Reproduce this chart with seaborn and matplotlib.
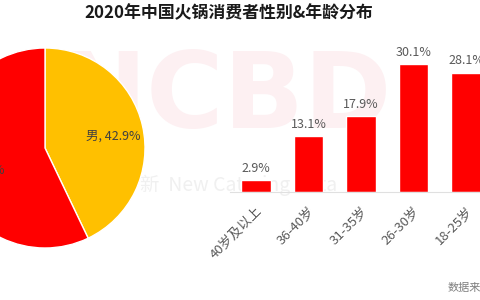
import matplotlib
matplotlib.use("Agg")
import matplotlib.pyplot as plt
import seaborn as sns
import pandas as pd

# ---- data ----
title = "2020年中国火锅消费者性别&年龄分布"
gender_labels = ["男", "女"]
gender_values = [42.9, 57.1]
age_labels = ["40岁及以上", "36-40岁", "31-35岁", "26-30岁", "18-25岁", "18岁以下"]
age_values = [2.9, 13.1, 17.9, 30.1, 28.1, 7.9]
source_text = "数据来源：NCBD（餐宝典）"

sns.set_theme(style="white")
plt.rcParams['font.family'] = ['Noto Sans CJK SC', 'DejaVu Sans']

W, H = 480, 300
fig = plt.figure(figsize=(4.8, 3.0), dpi=100)
fig.patch.set_facecolor("white")

def px(x0, y0, w, h):
    # convert pixel box (top-left origin) to figure fraction
    return [x0 / W, (H - y0 - h) / H, w / W, h / H]

# watermarks
fig.text(225 / W, 1 - 99 / H, "NCBD", fontsize=76, fontweight="bold",
         color="#FDF0F2", ha="center", va="center", zorder=-5,
         family=["Liberation Sans Narrow", "DejaVu Sans"])
fig.text(140 / W, 1 - 185 / H, "新  New Catering Data", fontsize=14,
         color="#F0F0F0", ha="left", va="center", zorder=-5)

# ---- pie ----
ax_pie = fig.add_axes(px(45 - 100, 148 - 100, 200, 200))
ax_pie.set_facecolor("none")
ax_pie.pie(gender_values, colors=["#FFC000", "#FF0000"], startangle=90,
           counterclock=False, radius=1.0,
           wedgeprops=dict(edgecolor="white", linewidth=1))
ax_pie.set_xlim(-1, 1)
ax_pie.set_ylim(-1, 1)
ax_pie.set_aspect("equal")
ax_pie.axis("off")
ax_pie.text(0.68, 0.12, f"{gender_labels[0]}, {gender_values[0]}%", ha="center",
            va="center", fontsize=9, color="#404040")
ax_pie.text(-0.41, -0.22, f"{gender_labels[1]}, {gender_values[1]}%", ha="right",
            va="center", fontsize=9, color="#404040")

# ---- bars ----
spacing = 52.5
ymax = 32
ppu = 4.25
ax_bar = fig.add_axes(px(256 - spacing / 2, 192 - ymax * ppu, spacing * 6, ymax * ppu))
ax_bar.set_facecolor("none")
df = pd.DataFrame({"age": age_labels, "value": age_values})
sns.barplot(data=df, x="age", y="value", color="#FF0000", saturation=1,
            width=0.57, ax=ax_bar)
ax_bar.set_xlim(-0.5, 5.5)
ax_bar.set_ylim(0, ymax)
for i, v in enumerate(age_values):
    ax_bar.text(i, v + 1.2, f"{v}%", ha="center", va="bottom", fontsize=9,
                color="#595959")
ax_bar.set_xlabel("")
ax_bar.set_ylabel("")
ax_bar.set_yticks([])
for s in ["top", "right", "left"]:
    ax_bar.spines[s].set_visible(False)
ax_bar.spines["bottom"].set_color("#E0E0E0")
ax_bar.spines["bottom"].set_linewidth(0.8)
ax_bar.tick_params(axis="x", length=0, pad=9, labelsize=9.5, labelcolor="#595959")
for lab in ax_bar.get_xticklabels():
    lab.set_rotation(45)
    lab.set_ha("right")
    lab.set_va("top")
    lab.set_rotation_mode("anchor")

# ---- title & source ----
fig.text(229 / W, 1 - 13 / H, title, ha="center", va="center", fontsize=12.2,
         fontweight="bold", color="#1A1A1A")
fig.text(448 / W, 1 - 288 / H, source_text, ha="left", va="center", fontsize=8,
         color="#7F7F7F")

fig.savefig("out.png", dpi=100, facecolor="white")
